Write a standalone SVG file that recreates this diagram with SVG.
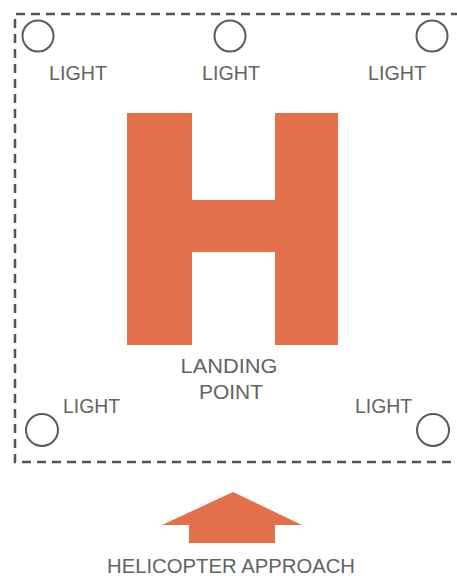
<svg xmlns="http://www.w3.org/2000/svg" width="457" height="576" viewBox="0 0 457 576">
<style>
.lbl{font-family:"Liberation Sans",Arial,sans-serif;font-size:21px;fill:#636363;}
.light{fill:none;stroke:#5a5a5a;stroke-width:2;}
.border{fill:none;stroke:#555;stroke-width:2.5;stroke-dasharray:9 6;}
.orange{fill:#E3704A;}
</style>
<rect width="457" height="576" fill="#ffffff"/>
<g id="border">
<path class="border" d="M460 14 H15 V462 H460"/>
</g>
<g id="landing-point">
<path class="orange" d="M127 113 H192 V200 H275 V113 H338 V345 H275 V252 H192 V345 H127 Z"/>
<text class="lbl" x="229" y="373" text-anchor="middle" textLength="97" lengthAdjust="spacingAndGlyphs">LANDING</text>
<text class="lbl" x="231" y="399" text-anchor="middle" textLength="64" lengthAdjust="spacingAndGlyphs">POINT</text>
</g>
<g id="light-tl">
<circle class="light" cx="38" cy="36" r="15.5"/>
<text class="lbl" x="49" y="80" textLength="58" lengthAdjust="spacingAndGlyphs">LIGHT</text>
</g>
<g id="light-tm">
<circle class="light" cx="230" cy="36" r="15.5"/>
<text class="lbl" x="202" y="80" textLength="58" lengthAdjust="spacingAndGlyphs">LIGHT</text>
</g>
<g id="light-tr">
<circle class="light" cx="432" cy="36" r="15.5"/>
<text class="lbl" x="368" y="80" textLength="58" lengthAdjust="spacingAndGlyphs">LIGHT</text>
</g>
<g id="light-bl">
<circle class="light" cx="42" cy="430" r="16"/>
<text class="lbl" x="63" y="413" textLength="57" lengthAdjust="spacingAndGlyphs">LIGHT</text>
</g>
<g id="light-br">
<circle class="light" cx="433" cy="430" r="16"/>
<text class="lbl" x="355" y="413" textLength="57" lengthAdjust="spacingAndGlyphs">LIGHT</text>
</g>
<g id="approach">
<path class="orange" d="M233 492 L302 525 H275 V543 H189 V525 H162 Z"/>
<text class="lbl" x="107" y="573" textLength="248" lengthAdjust="spacingAndGlyphs">HELICOPTER APPROACH</text>
</g>
</svg>
